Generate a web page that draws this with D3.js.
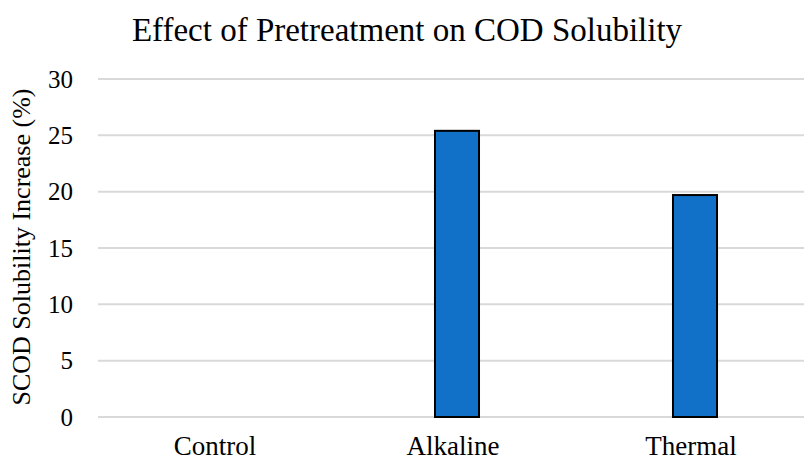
<!DOCTYPE html>
<html><head><meta charset="utf-8">
<script src="https://cdn.jsdelivr.net/npm/d3@7"></script>
<style>body{margin:0;background:#fff;} text{font-family:"Liberation Serif","Times New Roman",serif;fill:#000;}</style>
</head><body>
<svg id="c" width="804" height="460"></svg>
<script>
const categories = ["Control", "Alkaline", "Thermal"];
const values = [0, 25.4, 19.7];
const yTicks = [0, 5, 10, 15, 20, 25, 30];
const title = "Effect of Pretreatment on COD Solubility";
const yTitle = "SCOD Solubility Increase (%)";

const svg = d3.select("#c");
const x = d3.scaleBand().domain(categories).range([100, 814]).paddingInner(0.815).paddingOuter(0.4075);
const y = d3.scaleLinear().domain([0, 30]).range([417, 79]);

svg.append("g").selectAll("line").data(yTicks).join("line")
  .attr("x1", 98).attr("x2", 814)
  .attr("y1", d => y(d)).attr("y2", d => y(d))
  .attr("stroke", "#d9d9d9").attr("stroke-width", 2);

svg.append("g").selectAll("text").data(yTicks).join("text")
  .attr("x", 73).attr("y", d => y(d)).attr("dy", "0.35em")
  .attr("text-anchor", "end").attr("font-size", 25).text(d => d);

svg.append("g").selectAll("rect").data(values).join("rect")
  .attr("x", (d, i) => x(categories[i]))
  .attr("width", x.bandwidth())
  .attr("y", d => y(d))
  .attr("height", d => y(0) - y(d))
  .attr("fill", d => d > 0 ? "#1170c8" : "none")
  .attr("stroke", d => d > 0 ? "#000" : "none")
  .attr("stroke-width", 2);

svg.append("g").selectAll("text").data(categories).join("text")
  .attr("x", d => x(d) + x.bandwidth() / 2 - 4).attr("y", 455)
  .attr("text-anchor", "middle").attr("font-size", 27).text(d => d);

svg.append("text").attr("x", 407).attr("y", 41).attr("text-anchor", "middle")
  .attr("font-size", 33).text(title);

svg.append("text").attr("transform", "translate(30,247) rotate(-90)")
  .attr("text-anchor", "middle").attr("font-size", 26).text(yTitle);
</script>
</body></html>
